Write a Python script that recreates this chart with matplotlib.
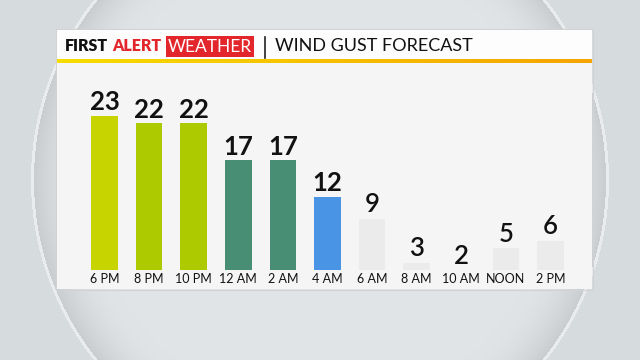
import numpy as np
import matplotlib
import matplotlib.pyplot as plt
from matplotlib.patches import Rectangle
from matplotlib.colors import LinearSegmentedColormap, to_rgb

matplotlib.use('agg')

times = ['6 PM', '8 PM', '10 PM', '12 AM', '2 AM', '4 AM',
         '6 AM', '8 AM', '10 AM', 'NOON', '2 PM']
gusts = [23, 22, 22, 17, 17, 12, 9, 3, 2, 5, 6]
bar_colors = ['#c8d400', '#adc900', '#adc900', '#478e74', '#478e74', '#4a94e6',
              '#ebebeb', '#ebebeb', '#ebebeb', '#ebebeb', '#ebebeb']
label_weight = ['bold'] * 6 + ['semibold'] * 5

W, H = 640, 360
fig = plt.figure(figsize=(W / 100, H / 100), dpi=100)
fig.patch.set_facecolor('#d6dbdd')

# background decoration in pixel coordinates
bg = fig.add_axes([0, 0, 1, 1])
bg.axis('off')

# soft circle behind the panel
yy, xx = np.mgrid[0:H, 0:W] + 0.5
r = np.hypot(xx - 320, yy - 180)
outside = np.array(to_rgb('#d6dbdd'))
inner = np.array(to_rgb('#e1e4e6'))
shade = np.array(to_rgb('#cacdd0'))
rim = np.array(to_rgb('#e9ebec'))
t = np.clip((r - 230) / 56, 0, 1)[..., None] ** 2
img = inner * (1 - t) + shade * t
img = np.where((np.abs(r - 287.5) < 1.5)[..., None], rim, img)
img = np.where((r > 289)[..., None], outside, img)
bg.imshow(img, extent=[0, W, H, 0], aspect='auto', interpolation='bilinear')

# panel
bg.add_patch(Rectangle((56, 29), 537, 261, facecolor='none', edgecolor='#d0d2d4', lw=0.8))
bg.add_patch(Rectangle((57, 30), 535, 31, facecolor='#fdfdfd', edgecolor='none'))
bg.add_patch(Rectangle((57, 63), 535, 226, facecolor='#f5f5f5', edgecolor='none'))
grad = LinearSegmentedColormap.from_list('hdr', ['#f7dc00', '#f5a400'])
bg.imshow(np.linspace(0, 1, 200).reshape(1, -1), cmap=grad, aspect='auto',
          extent=[57, 592, 63.5, 60], zorder=2)
bg.set_xlim(0, W)
bg.set_ylim(H, 0)

font = 'Lato'
bg.text(65, 46, 'FIRST', fontsize=11.5, fontweight='heavy', color='#111111',
        va='center', family=font)
bg.text(112, 46, 'ALERT', fontsize=11.5, fontweight='heavy', color='#e3262b',
        va='center', family=font)
bg.add_patch(Rectangle((166, 36), 88, 21, facecolor='#e3262b', edgecolor='none'))
bg.text(210, 46.5, 'WEATHER', fontsize=12.5, color='white', ha='center',
        va='center', family=font)
bg.plot([264.5, 264.5], [37, 58], color='#222222', lw=1.2)
bg.text(275, 46, 'WIND GUST FORECAST', fontsize=13, color='#111111',
        va='center', family=font)

# bar chart
base_px, top_px = 270, 62
px_per_unit = 7.35
y0 = 2.04
y1 = y0 + (base_px - top_px) / px_per_unit
ax = fig.add_axes([82.2 / W, (H - base_px) / H, 490.6 / W, (base_px - top_px) / H])
ax.set_facecolor('none')
x = np.arange(len(times))
ax.bar(x, gusts, width=0.6, color=bar_colors)
ax.set_xlim(-0.5, len(times) - 0.5)
ax.set_ylim(y0, y1)
for xi, v, wt in zip(x, gusts, label_weight):
    ax.text(xi, max(v, y0) + 0.2, str(v), ha='center', va='bottom',
            fontsize=18.5, fontweight=wt, color='#111111', family=font)
ax.set_xticks(x)
ax.set_xticklabels(times, fontsize=9, color='#111111', family=font)
ax.tick_params(axis='x', length=0, pad=2.5)
ax.set_yticks([])
for s in ax.spines.values():
    s.set_visible(False)

fig.savefig('out.png', dpi=100, facecolor=fig.get_facecolor())
